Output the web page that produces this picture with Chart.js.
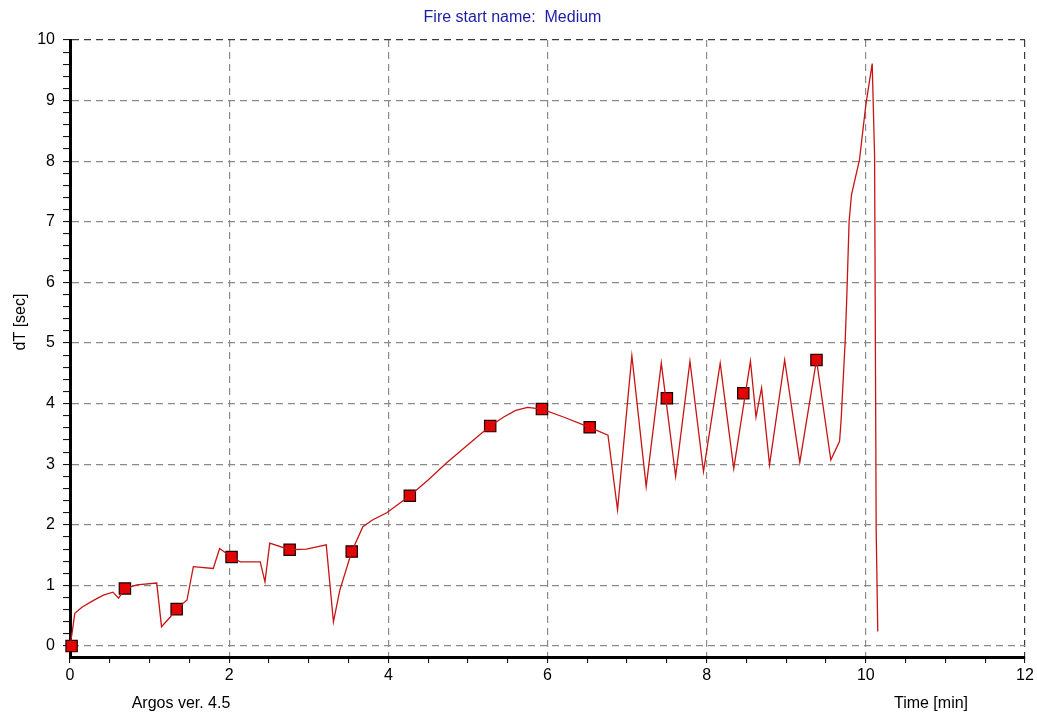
<!DOCTYPE html>
<html>
<head>
<meta charset="utf-8">
<title>Fire start name: Medium</title>
<script src="https://cdn.jsdelivr.net/npm/chart.js@4/dist/chart.umd.min.js"></script>
<style>
  html, body { margin: 0; padding: 0; background: #fff; }
  #grafico { display: block; }
</style>
</head>
<body>
<canvas id="grafico" width="1037" height="717"></canvas>
<script>
// dT curve (time in min, dT in sec)
const tempoLinha = [0, 0.03, 0.06, 0.15, 0.29, 0.42, 0.54, 0.61, 0.69, 0.84, 1.09, 1.15, 1.26, 1.34, 1.47, 1.55, 1.80, 1.88,
  2.03, 2.14, 2.39, 2.45, 2.51, 2.76, 2.97, 3.22, 3.31, 3.39, 3.54, 3.68, 3.80, 3.98, 4.27, 4.50, 4.73, 5.00, 5.28, 5.45,
  5.60, 5.75, 5.93, 6.20, 6.53, 6.76, 6.88, 7.06, 7.24, 7.43, 7.61, 7.79, 7.96, 8.17, 8.34, 8.55, 8.62, 8.69, 8.79, 8.98,
  9.17, 9.38, 9.56, 9.67, 9.69, 9.74, 9.76, 9.79, 9.82, 9.92, 10.00, 10.08, 10.11, 10.12, 10.13, 10.15];
const dtLinha = [0, 0.25, 0.54, 0.64, 0.75, 0.84, 0.89, 0.79, 0.95, 1.01, 1.04, 0.32, 0.48, 0.61, 0.76, 1.31, 1.28, 1.61,
  1.47, 1.39, 1.39, 1.06, 1.70, 1.59, 1.60, 1.67, 0.40, 0.92, 1.56, 1.97, 2.08, 2.20, 2.48, 2.74, 3.02, 3.32, 3.63, 3.78,
  3.89, 3.94, 3.91, 3.78, 3.61, 3.48, 2.25, 4.79, 2.63, 4.67, 2.80, 4.70, 2.88, 4.67, 2.93, 4.70, 3.78, 4.26, 2.99, 4.72,
  3.03, 4.72, 3.07, 3.38, 3.74, 5.02, 5.73, 7.01, 7.45, 8.02, 8.93, 9.61, 8.09, 4.99, 1.92, 0.24];

// square markers
const tempoMarcas = [0.02, 0.69, 1.34, 2.03, 2.76, 3.54, 4.27, 5.28, 5.93, 6.53, 7.50, 8.46, 9.38];
const dtMarcas = [0, 0.95, 0.61, 1.47, 1.59, 1.56, 2.48, 3.63, 3.91, 3.61, 4.09, 4.17, 4.72];

// axis ticks
const ticksX = [0, 0.5, 1, 1.5, 2, 2.5, 3, 3.5, 4, 4.5, 5, 5.5, 6, 6.5, 7, 7.5, 8, 8.5, 9, 9.5, 10, 10.5, 11, 11.5, 12];
const rotulosX = [0, 2, 4, 6, 8, 10, 12];
const ticksYPasso = 0.2;
const rotulosY = [0, 1, 2, 3, 4, 5, 6, 7, 8, 9, 10];

const fonte = "'Liberation Sans', Arial, sans-serif";

// textos soltos: titulo do eixo y, versão e eixo x
const textosExtras = {
  id: 'textosExtras',
  afterDraw(chart) {
    const ctx = chart.ctx;
    ctx.save();
    ctx.fillStyle = '#000';
    ctx.font = '16px ' + fonte;
    ctx.textAlign = 'center';
    ctx.textBaseline = 'middle';
    ctx.fillText('Argos ver. 4.5', 181, 704);
    ctx.fillText('Time [min]', 931, 704);
    ctx.translate(21, 322);
    ctx.rotate(-Math.PI / 2);
    ctx.fillText('dT [sec]', 0, 0);
    ctx.restore();
  }
};

const ctx = document.getElementById('grafico').getContext('2d');
new Chart(ctx, {
  type: 'scatter',
  data: {
    datasets: [
      {
        label: 'dT',
        data: tempoLinha.map((t, i) => ({ x: t, y: dtLinha[i] })),
        showLine: true,
        borderColor: '#c81414',
        borderWidth: 1.3,
        pointRadius: 0,
        tension: 0
      },
      {
        label: 'marcas',
        data: tempoMarcas.map((t, i) => ({ x: t, y: dtMarcas[i] })),
        showLine: false,
        pointStyle: 'rect',
        pointRadius: 8,
        backgroundColor: '#e80000',
        borderColor: '#1a0000',
        borderWidth: 1.2,
        clip: false
      }
    ]
  },
  options: {
    responsive: false,
    animation: false,
    layout: { padding: { left: 0, right: 12, top: 0, bottom: 0 } },
    plugins: {
      legend: { display: false },
      tooltip: { enabled: false },
      title: {
        display: true,
        text: 'Fire start name:  Medium',
        color: '#1c1ca8',
        font: { family: fonte, size: 16, weight: 'normal', lineHeight: 1.2 },
        padding: { top: 8.4, bottom: 12.4 }
      }
    },
    scales: {
      x: {
        type: 'linear',
        min: 0,
        max: 12,
        afterBuildTicks: (scale) => { scale.ticks = ticksX.map(v => ({ value: v })); },
        afterFit: (scale) => { scale.height = 60; },
        ticks: {
          autoSkip: false,
          maxRotation: 0,
          padding: 3,
          color: '#000',
          font: { family: fonte, size: 16 },
          callback: (v) => rotulosX.includes(v) ? String(v) : ''
        },
        grid: {
          color: (c) => {
            if (!c.tick || c.tick.value === 0) return 'rgba(0,0,0,0)';
            if (c.tick.value === 12) return '#3a3a3a';
            return c.tick.value % 2 === 0 ? '#8a8a8a' : 'rgba(0,0,0,0)';
          },
          lineWidth: 1.2,
          tickColor: '#000',
          tickLength: 6,
          tickWidth: 1
        },
        border: { display: true, color: '#000', width: 3, dash: [7, 5] }
      },
      y: {
        type: 'linear',
        min: -0.18,
        max: 10,
        afterBuildTicks: (scale) => {
          const lista = [];
          for (let k = 0; k <= 50; k++) lista.push({ value: Math.round(k * ticksYPasso * 10) / 10 });
          scale.ticks = lista;
        },
        afterFit: (scale) => { scale.width = 70; },
        ticks: {
          autoSkip: false,
          padding: 8,
          color: '#000',
          font: { family: fonte, size: 16 },
          callback: (v) => rotulosY.includes(v) ? String(v) : ''
        },
        grid: {
          color: (c) => {
            if (!c.tick) return 'rgba(0,0,0,0)';
            if (c.tick.value === 10) return '#3a3a3a';
            return rotulosY.includes(c.tick.value) ? '#8a8a8a' : 'rgba(0,0,0,0)';
          },
          lineWidth: 1.2,
          tickColor: '#000',
          tickLength: 7,
          tickWidth: 1
        },
        border: { display: true, color: '#000', width: 3, dash: [7, 5] }
      }
    }
  },
  plugins: [textosExtras]
});
</script>
</body>
</html>
